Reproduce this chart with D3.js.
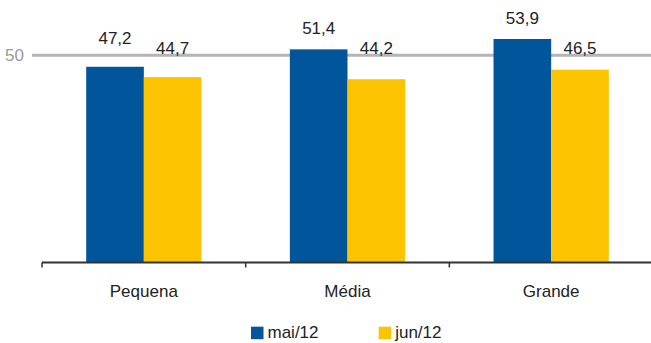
<!DOCTYPE html>
<html><head><meta charset="utf-8">
<script src="https://cdn.jsdelivr.net/npm/d3@7"></script>
<style>
html,body{margin:0;padding:0;background:#fff;}
svg{display:block;font-family:"Liberation Sans",Arial,sans-serif;}
</style></head>
<body>
<svg id="c" width="651" height="343"></svg>
<script>
const categories = ["Pequena", "Média", "Grande"];
const seriesNames = ["mai/12", "jun/12"];
const mai12 = [47.2, 51.4, 53.9];
const jun12 = [44.7, 44.2, 46.5];
const yTicks = [50];
const colors = ["#00559b", "#fbc300"];

const series = [mai12, jun12];
const fmt = v => d3.format(".1f")(v).replace(".", ",");

const svg = d3.select("#c");
const baseY = 262.5;
const y = d3.scaleLinear().domain([0, 53.9]).range([baseY, 39]);
const x0 = d3.scaleBand().domain(categories).range([42, 653]).padding(0);
const groupW = x0.bandwidth() * 0.566;
const x1 = d3.scaleBand().domain(seriesNames).range([0, groupW]);

// gridline at 50
yTicks.forEach(t => {
  svg.append("line").attr("x1", 32).attr("x2", 651)
    .attr("y1", y(t)).attr("y2", y(t))
    .attr("stroke", "#b5b5b5").attr("stroke-width", 3);
  svg.append("text").attr("x", 24).attr("y", y(t)).attr("dy", "0.35em")
    .attr("text-anchor", "end").attr("fill", "#9a9a9a")
    .attr("font-size", 17).text(t);
});

// bars
categories.forEach((c, ci) => {
  const gx = x0(c) + (x0.bandwidth() - groupW) / 2;
  seriesNames.forEach((s, si) => {
    const v = series[si][ci];
    svg.append("rect")
      .attr("x", gx + x1(s)).attr("width", x1.bandwidth())
      .attr("y", y(v)).attr("height", baseY - y(v))
      .attr("fill", colors[si]);
    const cap = y(yTicks[0]) - (si === 0 ? 11 : 1);
    svg.append("text")
      .attr("x", gx + x1(s) + x1.bandwidth() / 2)
      .attr("y", Math.min(y(v) - 15, cap))
      .attr("text-anchor", "middle").attr("fill", "#222")
      .attr("font-size", 17).text(fmt(v));
  });
});

// x axis
const ax = svg.append("g").attr("transform", `translate(0,${baseY})`);
ax.append("line").attr("x1", 42).attr("x2", 651).attr("stroke", "#333").attr("stroke-width", 1.8);
const tickXs = categories.map(c => x0(c));
tickXs.forEach(tx => {
  ax.append("line").attr("x1", tx).attr("x2", tx).attr("y1", 0).attr("y2", 5)
    .attr("stroke", "#333").attr("stroke-width", 1.5);
});
categories.forEach(c => {
  ax.append("text").attr("x", x0(c) + x0.bandwidth() / 2).attr("y", 297 - baseY)
    .attr("text-anchor", "middle").attr("fill", "#222").attr("font-size", 17).text(c);
});

// legend
const legX = [251, 378.7];
seriesNames.forEach((s, i) => {
  svg.append("rect").attr("x", legX[i]).attr("y", 326.7).attr("width", 12.5).attr("height", 12.5)
    .attr("fill", colors[i]);
  svg.append("text").attr("x", legX[i] + 16.5).attr("y", 338)
    .attr("fill", "#222").attr("font-size", 17).text(s);
});
</script>
</body></html>
